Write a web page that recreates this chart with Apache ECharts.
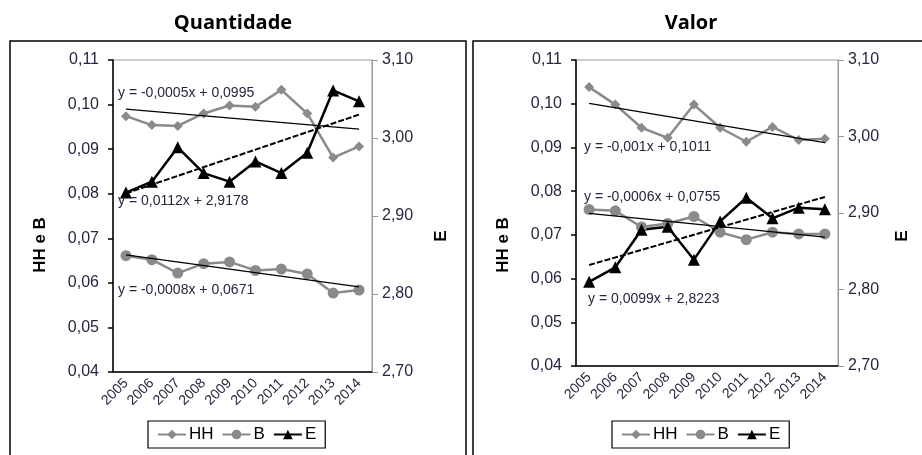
<!DOCTYPE html>
<html>
<head>
<meta charset="utf-8">
<script src="https://cdn.jsdelivr.net/npm/echarts@6/dist/echarts.min.js"></script>
<style>
  * { margin: 0; padding: 0; }
  body { background: #fff; }
</style>
</head>
<body>
<div id="main" style="width: 922px; height: 455px;"></div>
<script>
  // anos
  var years = ['2005', '2006', '2007', '2008', '2009', '2010', '2011', '2012', '2013', '2014'];

  // Quantidade
  var qtdHH = [0.0974, 0.0954, 0.0952, 0.0980, 0.0998, 0.0995, 0.1033, 0.0980, 0.0881, 0.0906];
  var qtdB  = [0.0661, 0.0652, 0.0622, 0.0643, 0.0647, 0.0628, 0.0631, 0.0620, 0.0577, 0.0584];
  var qtdE  = [2.930, 2.944, 2.988, 2.955, 2.944, 2.970, 2.955, 2.981, 3.061, 3.047];
  // linhas de tendencia (inicio 2005, fim 2014)
  var qtdHHTrend = [0.0990, 0.0945];
  var qtdBTrend  = [0.0663, 0.0591];
  var qtdETrend  = [2.929, 3.030];

  // Valor
  var valHH = [0.1038, 0.0998, 0.0945, 0.0922, 0.0998, 0.0945, 0.0913, 0.0947, 0.0917, 0.0920];
  var valB  = [0.0758, 0.0755, 0.0718, 0.0726, 0.0742, 0.0706, 0.0689, 0.0706, 0.0702, 0.0702];
  var valE  = [2.810, 2.829, 2.878, 2.882, 2.839, 2.889, 2.920, 2.893, 2.907, 2.905];
  var valHHTrend = [0.1001, 0.0911];
  var valBTrend  = [0.0749, 0.0695];
  var valETrend  = [2.832, 2.921];

  var leftTicks = [0.04, 0.11, 0.01];
  var rightTicks = [2.70, 3.10, 0.10];

  var eqQtd = ['y = -0,0005x + 0,0995', 'y = 0,0112x + 2,9178', 'y = -0,0008x + 0,0671'];
  var eqVal = ['y = -0,001x + 0,1011', 'y = -0,0006x + 0,0755', 'y = 0,0099x + 2,8223'];

  var FONT = '"Liberation Sans", Arial, sans-serif';
  var TXT = '#2b2340';
  var GRAY = '#8a8a8a';

  function ends(pair) {
    // so o primeiro e o ultimo ponto, o resto nulo
    var arr = years.map(function () { return null; });
    arr[0] = pair[0];
    arr[arr.length - 1] = pair[1];
    return arr;
  }

  function fmt(v) {
    return v.toFixed(2).replace('.', ',');
  }

  function xAxis(idx) {
    return {
      type: 'category', gridIndex: idx, data: years, boundaryGap: true,
      axisLine: { lineStyle: { color: '#000', width: 1.5 } },
      axisTick: { length: 5, lineStyle: { color: '#000', width: 1.5 } },
      axisLabel: { rotate: 45, fontFamily: FONT, fontSize: 14, color: TXT, margin: 9 }
    }
  }

  function yLeft(idx) {
    return {
      type: 'value', gridIndex: idx, position: 'left',
      min: leftTicks[0], max: leftTicks[1], interval: leftTicks[2],
      splitLine: { show: false },
      axisLine: { show: true, lineStyle: { color: '#000', width: 1.5 } },
      axisTick: { show: true, length: 5, lineStyle: { color: '#000', width: 1.5 } },
      axisLabel: { formatter: fmt, fontFamily: FONT, fontSize: 16, color: TXT, margin: 14 }
    }
  }

  function yRight(idx) {
    return {
      type: 'value', gridIndex: idx, position: 'right',
      min: rightTicks[0], max: rightTicks[1], interval: rightTicks[2],
      splitLine: { show: false },
      axisLine: { show: true, lineStyle: { color: '#999', width: 1 } },
      axisTick: { show: true, length: 6, lineStyle: { color: '#999', width: 1 } },
      axisLabel: { formatter: fmt, fontFamily: FONT, fontSize: 16, color: TXT, margin: 10 }
    }
  }

  function dataSeries(name, data, xi, yi, kind) {
    var s = {
      name: name, type: 'line', data: data, xAxisIndex: xi, yAxisIndex: yi,
      animation: false, z: 3
    };
    if (kind === 'HH') {
      s.symbol = 'diamond'; s.symbolSize = 10;
      s.itemStyle = { color: GRAY }; s.lineStyle = { color: GRAY, width: 2.5 };
    } else if (kind === 'B') {
      s.symbol = 'circle'; s.symbolSize = 11;
      s.itemStyle = { color: GRAY }; s.lineStyle = { color: GRAY, width: 2.5 };
    } else {
      s.symbol = 'triangle'; s.symbolSize = 12;
      s.itemStyle = { color: '#000' }; s.lineStyle = { color: '#000', width: 2.5 };
    }
    return s;
  }

  function trendSeries(pair, xi, yi, dashed) {
    return {
      name: 'tend', type: 'line', data: ends(pair), connectNulls: true,
      xAxisIndex: xi, yAxisIndex: yi, symbol: 'none', animation: false, z: 4,
      lineStyle: { color: '#000', width: dashed ? 2 : 1.3, type: dashed ? [6, 2] : 'solid' }
    }
  }

  function eqText(x, y, text) {
    return {
      type: 'text', x: x, y: y, z: 10,
      style: { text: text, fontFamily: FONT, fontSize: 14, fill: TXT }
    }
  }

  function vText(x, y, text) {
    return {
      type: 'text', x: x, y: y, rotation: Math.PI / 2, z: 10,
      style: { text: text, fontFamily: FONT, fontSize: 17, fontWeight: 'bold', fill: '#000',
               align: 'center', verticalAlign: 'middle' }
    }
  }

  function legend(x) {
    return {
      data: ['HH', 'B', 'E'], left: x, top: 421,
      padding: [5, 9], itemGap: 8, itemWidth: 28, itemHeight: 12,
      borderColor: '#000', borderWidth: 1.2, selectedMode: false,
      textStyle: { fontFamily: FONT, fontSize: 17, color: '#000', padding: [0, 0, 0, -2] }
    }
  }

  var chart = echarts.init(document.getElementById('main'), null, { renderer: 'canvas' });
  chart.setOption({
    backgroundColor: '#fff',
    animation: false,
    title: [
      { text: 'Quantidade', left: 228, top: 8, textAlign: 'center',
        textStyle: { fontFamily: '"Open Sans", sans-serif', fontSize: 20, fontWeight: 'bold', color: '#000' } },
      { text: 'Valor', left: 686, top: 8, textAlign: 'center',
        textStyle: { fontFamily: '"Open Sans", sans-serif', fontSize: 20, fontWeight: 'bold', color: '#000' } }
    ],
    grid: [
      { left: 113, top: 60, width: 259, height: 312, show: true, borderColor: '#999', borderWidth: 1 },
      { left: 576, top: 60, width: 262, height: 306, show: true, borderColor: '#999', borderWidth: 1 }
    ],
    legend: [legend(148), legend(612)],
    xAxis: [xAxis(0), xAxis(1)],
    yAxis: [yLeft(0), yRight(0), yLeft(1), yRight(1)],
    series: [
      dataSeries('HH', qtdHH, 0, 0, 'HH'),
      dataSeries('B', qtdB, 0, 0, 'B'),
      dataSeries('E', qtdE, 0, 1, 'E'),
      trendSeries(qtdHHTrend, 0, 0, false),
      trendSeries(qtdBTrend, 0, 0, false),
      trendSeries(qtdETrend, 0, 1, true),
      dataSeries('HH', valHH, 1, 2, 'HH'),
      dataSeries('B', valB, 1, 2, 'B'),
      dataSeries('E', valE, 1, 3, 'E'),
      trendSeries(valHHTrend, 1, 2, false),
      trendSeries(valBTrend, 1, 2, false),
      trendSeries(valETrend, 1, 3, true)
    ],
    graphic: [
      // molduras dos dois paineis
      { type: 'rect', shape: { x: 10, y: 41, width: 456, height: 430 }, z: 0,
        style: { fill: 'none', stroke: '#000', lineWidth: 1.5 } },
      { type: 'rect', shape: { x: 473, y: 41, width: 460, height: 430 }, z: 0,
        style: { fill: 'none', stroke: '#000', lineWidth: 1.5 } },
      eqText(118, 86, eqQtd[0]),
      eqText(118, 194, eqQtd[1]),
      eqText(118, 283, eqQtd[2]),
      eqText(584, 140, eqVal[0]),
      eqText(584, 190, eqVal[1]),
      eqText(588, 292, eqVal[2]),
      vText(40, 245, 'HH e B'),
      vText(441, 236, 'E'),
      vText(503, 245, 'HH e B'),
      vText(902, 236, 'E')
    ]
  });
</script>
</body>
</html>
